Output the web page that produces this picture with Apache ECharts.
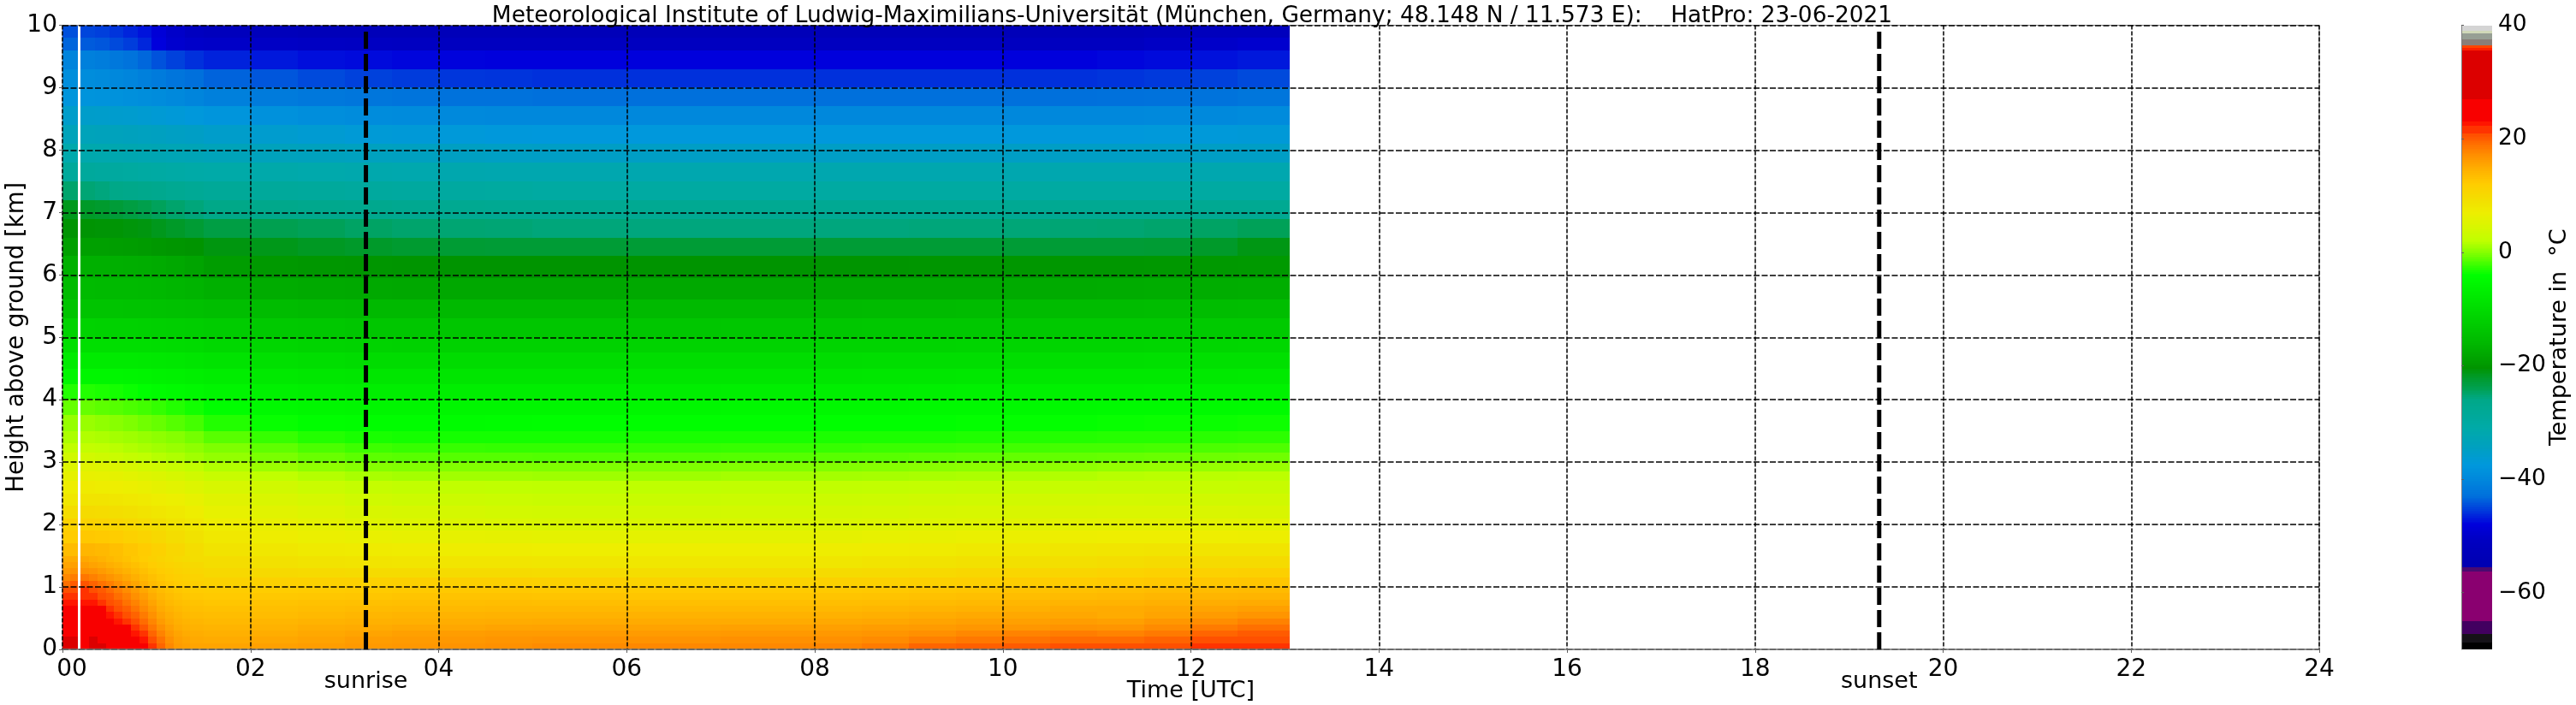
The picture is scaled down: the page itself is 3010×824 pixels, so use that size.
<!DOCTYPE html>
<html><head><meta charset="utf-8">
<style>html,body{margin:0;padding:0;background:#fff}#c{width:3010px;height:824px}</style>
<script src="https://cdn.jsdelivr.net/npm/echarts@6/dist/echarts.min.js"></script>
</head><body><div id="c"></div>
<script>
const titleText = 'Meteorological Institute of Ludwig-Maximilians-Universität (München, Germany; 48.148 N / 11.573 E):    HatPro: 23-06-2021';
const hourTicks = [0,2,4,6,8,10,12,14,16,18,20,22,24];
const tempTicks = [-60,-40,-20,0,20,40];
const sunEvents = ['sunrise','sunset'];
const sunHours = [3.227,19.32];

// Colour bar
const stopTemps = [-70,-68.8,-68.8,-67.2,-67.2,-65,-65,-56.3,-56.3,-55.6,-55.6,-51,-48,-46,-44.5,-43,-40,-37.5,-34.4,-31,-26,-24,-22,-20.4,-19,-16,-12,-8,-4,-3,-1,0,2,4,7,9,12,14.6,17,19,20.5,21,21,22.3,22.3,23,23,27,27,35.6,35.6,36,36,36.5,36.5,37.4,37.4,38.6,38.6,39,39,40];
const stopColors = ['#000000','#000000','#151218','#151218','#420060','#420060','#8a0070','#8a0070','#4a0a70','#4a0a70','#0000b0','#0000c0','#0000dc','#0030dc','#0050dc','#0070dc','#0088dc','#0098dc','#00a0c0','#00aaa8','#00a888','#00a050','#009a28','#009400','#00a000','#00b800','#00d000','#00e800','#00ff00','#22ff00','#66ff00','#88ff00','#bfff00','#d4f800','#eeee00','#f2e000','#ffcc00','#ffb000','#ff9000','#ff7000','#ff5000','#ff5000','#ff3300','#ff3300','#ff1500','#ff1500','#f80000','#f80000','#dc0000','#dc0000','#ff2000','#ff2000','#ff4500','#ff4500','#8a7e78','#8a7e78','#979f94','#979f94','#d0d8b8','#d0d8b8','#d4d4d4','#d4d4d4'];

// Time columns [h]; the white stripe is the hole between the first two columns
const timeStart = [0,.19,.35,.5,.65,.8,.95,1.1,1.3,1.5,2,2.5,3,3.5,4,4.5,5,6,7,8,8.5,9,9.5,10,10.5,11,11.5,12,12.5];
const timeEnd   = [.165,.35,.5,.65,.8,.95,1.1,1.3,1.5,2,2.5,3,3.5,4,4.5,5,6,7,8,8.5,9,9.5,10,10.5,11,11.5,12,12.5,13.05];
// Height row edges [km]
const heightEdges = [0,.1,.2,.3,.4,.5,.6,.7,.8,.9,1,1.15,1.3,1.5,1.7,1.9,2.1,2.3,2.5,2.7,2.85,3,3.15,3.3,3.5,3.75,4,4.25,4.5,4.75,5,5.3,5.6,5.95,6.3,6.6,6.9,7.2,7.5,7.8,8.1,8.4,8.7,9,9.3,9.6,9.8,10];
// Temperature [deg C], one line per height row from the ground up
const temperature = [
[27.5,27.5,27.5,26,25,23.8,21.5,18.5,16.5,15.5,15.8,16,16.3,16.5,16.8,17,17.3,17.5,17.5,17.7,18.3,19.5,19.8,20,20.5,20.8,21,21.3,21.8],
[25.5,26,25.5,25,24.5,23.5,21,18,16,15,15.3,15.6,16,16.2,16.4,16.6,16.8,16.8,17,17,17.3,18,18.5,18.8,19.2,19.2,19.6,20.5,20.8],
[25,25.5,25.2,24.7,24,22.8,20.5,17.6,15.6,14.6,14.8,15.2,15.5,15.8,16,16.2,16.2,16.2,16.3,16.4,16.6,17,17.5,17.8,18.2,17.8,18.4,19.5,20],
[24.5,25,24.8,24.2,23.2,21.8,19.5,17,15.2,14.2,14.4,14.8,15,15.2,15.3,15.5,15.6,15.6,15.7,15.8,16,16.2,16.5,16.5,16.8,16.6,17.3,18.3,19],
[24,24.6,24.2,23.6,22.4,21,18.7,16.5,14.8,13.8,14,14.3,14.5,14.6,14.8,14.9,15,15,15,15.1,15.3,15.5,15.8,15.8,16,15.8,16.5,17.2,17.9],
[23.8,24.2,23.6,23,21.8,20,18,16,14.4,13.4,13.5,13.8,14,14.2,14.3,14.4,14.4,14.4,14.4,14.5,14.7,14.9,15.1,15.2,15.3,15,15.5,16.2,16.6],
[23,23.6,23,22.2,20.8,19.2,17.2,15.4,14,13,13.2,13.4,13.6,13.7,13.8,13.9,13.9,13.8,13.8,13.9,14,14.2,14.4,14.6,14.9,15,15.2,15.5,15.8],
[22.2,22.6,22.3,21.3,20,18.4,16.5,14.9,13.5,12.6,12.8,13,13.1,13.2,13.3,13.4,13.3,13.2,13.2,13.3,13.4,13.6,13.8,14,14.2,14.3,14.6,14.8,15],
[21.5,22,21.3,20.3,19,17.5,15.9,14.4,13,12.2,12.4,12.5,12.6,12.7,12.8,12.8,12.7,12.6,12.6,12.7,12.8,13,13.2,13.4,13.6,13.8,14,14.1,14.2],
[20.5,21,20.3,19.3,18.2,16.8,15.2,13.8,12.6,11.8,11.9,12,12.1,12.2,12.3,12.3,12.2,12.1,12.1,12.2,12.3,12.5,12.6,12.8,13,13.2,13.4,13.5,13.6],
[18.5,19.3,18.8,18,17,15.7,14.3,13,12,11.1,11.2,11.3,11.3,11.4,11.4,11.4,11.2,11,11,11.2,11.3,11.4,11.6,11.8,12,12.2,12.4,12.5,12.6],
[16.5,17.2,17,16.2,15.4,14.4,13.2,12.2,11.2,10.2,10,9.9,9.8,9.8,9.8,9.8,9.6,9.5,9.5,9.7,9.9,10.1,10.3,10.5,10.7,11,11.2,11.3,11.4],
[15,15.5,15.3,14.8,14.2,13.4,12.4,11.4,10.4,9.4,8.9,8.6,8.4,8.3,8.3,8.3,8.1,8,8,8.2,8.4,8.6,8.8,9,9.2,9.5,9.7,9.8,9.8],
[13.5,14,13.8,13.2,12.6,12,11.2,10.4,9.5,8.6,8,7.6,7.4,7.3,7.2,7.2,7,7,7,7.1,7.3,7.5,7.7,7.9,8.1,8.3,8.5,8.5,8.4],
[12,12.4,12.2,11.8,11.3,10.8,10.2,9.5,8.7,7.8,7.1,6.7,6.4,6.2,6.1,6,5.9,5.9,5.9,6,6.2,6.3,6.5,6.7,6.9,7,7,7,6.9],
[11,11,10.8,10.5,10.1,9.6,9.1,8.5,7.9,7,6.3,5.8,5.3,5,4.8,4.7,4.5,4.5,4.6,4.7,4.9,5,5.2,5.4,5.6,5.7,5.7,5.6,5.6],
[9.5,9.8,9.6,9.3,9,8.6,8.2,7.7,7.1,6.2,5.5,5,4.5,4.2,4,3.8,3.7,3.7,3.8,3.9,4,4.2,4.3,4.5,4.6,4.7,4.7,4.6,4.5],
[8,8.5,8.4,8.2,7.9,7.6,7.2,6.8,6.2,5.4,4.6,4.1,3.5,3.2,3.1,3,2.9,2.9,3,3.1,3.2,3.4,3.5,3.6,3.7,3.8,3.7,3.6,3.6],
[7,7.4,7.2,7,6.8,6.4,6,5.6,5,4.3,3.6,3,2.6,2.3,2.2,2.1,2,2,2.2,2.2,2.3,2.4,2.5,2.6,2.7,2.8,2.8,2.7,2.8],
[6,6.3,6.2,6,5.6,5.2,4.8,4.2,3.6,2.9,2.1,1.6,1.2,1,.9,.9,.8,.8,1,1,1.1,1.2,1.3,1.4,1.5,1.7,1.8,1.8,1.9],
[5,5.4,5.2,4.8,4.3,3.8,3.4,2.9,2.2,1.5,.7,.2,-.1,-.2,-.2,-.2,-.3,-.3,-.2,-.2,-.1,0,.1,.1,.2,.4,.5,.5,.6],
[3.6,3.8,3.4,3,2.5,2.1,1.7,1.4,.9,.4,-.4,-.9,-1.3,-1.4,-1.5,-1.5,-1.6,-1.6,-1.5,-1.4,-1.4,-1.3,-1.2,-1.1,-1.1,-1,-.9,-.8,-.7],
[2.2,2.4,2.1,1.8,1.5,1.2,.9,.6,.2,-.3,-1.2,-1.8,-2.2,-2.4,-2.4,-2.5,-2.5,-2.5,-2.4,-2.4,-2.3,-2.3,-2.2,-2.1,-2,-2,-1.9,-1.8,-1.7],
[1.3,1.5,1.3,1,.8,.5,.2,-.1,-.6,-1.4,-2.4,-3,-3.3,-3.4,-3.4,-3.4,-3.4,-3.3,-3.3,-3.2,-3.2,-3.2,-3.1,-3,-3,-2.9,-2.9,-2.8,-2.7],
[.5,.6,.3,0,-.3,-.7,-1,-1.5,-2,-3,-3.8,-4.2,-4.4,-4.4,-4.5,-4.4,-4.2,-4.1,-4.1,-4,-4,-4,-3.9,-3.9,-3.9,-3.8,-3.7,-3.7,-3.6],
[-1,-1,-1.3,-1.5,-1.8,-2.1,-2.5,-3,-3.5,-4.2,-5,-5.4,-5.5,-5.6,-5.6,-5.6,-5.5,-5.4,-5.3,-5.2,-5.2,-5.1,-5,-5,-5,-4.9,-4.8,-4.8,-4.7],
[-3,-3,-3.2,-3.4,-3.7,-4,-4.5,-4.8,-5.2,-5.8,-6.4,-6.7,-6.9,-7,-7,-7,-7,-6.9,-6.8,-6.8,-6.7,-6.6,-6.5,-6.5,-6.4,-6.4,-6.3,-6.3,-6.2],
[-5.5,-5.5,-5.6,-5.6,-5.8,-6,-6.2,-6.4,-6.7,-7.2,-7.8,-8.1,-8.3,-8.4,-8.5,-8.5,-8.5,-8.4,-8.3,-8.3,-8.2,-8.1,-8,-8,-7.9,-7.9,-7.8,-7.8,-7.7],
[-7.5,-7.5,-7.5,-7.6,-7.7,-7.8,-8,-8.2,-8.5,-8.9,-9.3,-9.7,-10,-10,-10,-10,-10,-9.9,-9.9,-9.8,-9.7,-9.7,-9.6,-9.6,-9.5,-9.5,-9.4,-9.4,-9.3],
[-9.5,-9.5,-9.5,-9.6,-9.6,-9.7,-9.9,-10,-10.2,-10.6,-11,-11.3,-11.5,-11.6,-11.6,-11.6,-11.6,-11.5,-11.5,-11.4,-11.3,-11.3,-11.2,-11.2,-11.1,-11.1,-11,-11,-10.9],
[-11.5,-11.5,-11.6,-11.6,-11.7,-11.8,-12,-12.2,-12.4,-12.7,-13.1,-13.4,-13.6,-13.7,-13.7,-13.7,-13.7,-13.6,-13.5,-13.5,-13.4,-13.4,-13.3,-13.3,-13.2,-13.2,-13.1,-13,-13],
[-14,-14,-14,-14,-14.1,-14.2,-14.3,-14.5,-14.7,-15,-15.4,-15.6,-15.8,-15.8,-15.8,-15.8,-15.8,-15.7,-15.7,-15.6,-15.5,-15.5,-15.4,-15.4,-15.3,-15.3,-15.2,-15.1,-15],
[-15.5,-15.5,-15.6,-15.6,-15.7,-15.8,-16,-16.2,-16.5,-17,-17.5,-17.7,-17.9,-18,-18,-18,-18,-17.9,-17.9,-17.8,-17.8,-17.7,-17.7,-17.6,-17.6,-17.5,-17.4,-17.4,-17.3],
[-17,-17,-17,-17.1,-17.2,-17.4,-17.6,-18,-18.5,-19.3,-19.8,-20,-20.2,-20.3,-20.4,-20.4,-20.4,-20.4,-20.4,-20.3,-20.3,-20.2,-20.2,-20.1,-20,-20,-19.9,-19.8,-19.7],
[-19,-19,-19,-19.2,-19.4,-19.6,-19.9,-20.2,-20.4,-21,-21.4,-21.8,-22.1,-22.4,-22.6,-22.7,-22.7,-22.7,-22.7,-22.7,-22.7,-22.7,-22.7,-22.7,-22.7,-22.7,-22.6,-22.1,-21.2],
[-20.5,-20.5,-20.6,-20.6,-20.8,-21,-21.5,-22,-22.6,-23.4,-24,-24.3,-24.7,-25,-25.2,-25.3,-25.5,-25.6,-25.6,-25.6,-25.6,-25.5,-25.5,-25.4,-25.3,-25.2,-25,-24.7,-24.3],
[-21.5,-22,-22.3,-22.8,-23.3,-23.8,-24.4,-25,-25.5,-26,-26.5,-26.8,-27,-27.2,-27.4,-27.5,-27.5,-27.6,-27.6,-27.7,-27.7,-27.7,-27.7,-27.7,-27.6,-27.6,-27.6,-27.5,-27.5],
[-25,-25.3,-25.6,-26,-26.3,-26.7,-27,-27.5,-28,-28.5,-29,-29.2,-29.4,-29.6,-29.7,-29.8,-30,-30,-30,-30,-30,-30,-30,-30,-30,-30,-30,-30,-30],
[-29,-29.2,-29.4,-29.6,-29.8,-30,-30.2,-30.5,-30.8,-31,-31.3,-31.5,-31.7,-31.8,-31.9,-32,-32,-32,-32,-32,-32,-32,-32,-32,-32,-32,-32,-32,-32],
[-31.5,-31.7,-31.8,-32,-32.2,-32.4,-32.6,-32.8,-33,-33.4,-33.8,-34,-34.2,-34.4,-34.6,-34.8,-35,-35,-35,-35,-35,-35,-35,-35,-35,-35,-35,-35,-35],
[-33.5,-33.5,-33.7,-33.8,-34,-34.2,-34.4,-34.7,-35,-35.5,-36,-36.4,-36.8,-37,-37.2,-37.4,-37.5,-37.5,-37.5,-37.5,-37.5,-37.5,-37.5,-37.5,-37.4,-37.4,-37.3,-37.2,-37],
[-35.5,-35.5,-35.6,-35.8,-36,-36.3,-36.6,-37,-37.4,-38,-38.6,-39,-39.4,-39.6,-39.8,-40,-40,-40,-40,-40,-40,-40,-40,-40,-40,-40,-39.9,-39.8,-39.6],
[-38,-38.2,-38.3,-38.5,-38.8,-39,-39.3,-39.8,-40.4,-41,-41.6,-42,-42.3,-42.5,-42.7,-42.8,-43,-43,-43,-43,-43,-43,-43,-43,-43,-42.9,-42.8,-42.6,-42.3],
[-39,-39.2,-39.5,-40,-40.4,-41,-41.6,-42.4,-43,-43.6,-44.2,-44.8,-45.2,-45.5,-45.7,-45.8,-46,-46,-46,-46,-46,-46,-46,-46,-46,-45.8,-45.6,-45.2,-44.8],
[-40.5,-41,-41.4,-42,-42.6,-43.4,-44.4,-45.2,-46,-46.6,-47,-47.4,-47.6,-47.8,-47.9,-48,-48,-48,-48,-48,-48,-48,-48,-48,-48,-47.8,-47.6,-47.3,-47],
[-43.5,-44,-44.2,-44.8,-45.4,-46.4,-48,-49.5,-50,-50.3,-50.5,-50.7,-50.8,-50.9,-51,-51,-51,-51,-51,-51,-51,-51,-51,-51,-51,-51,-50.5,-50,-49.5],
[-44.5,-45,-45.3,-45.8,-46.5,-47.2,-48.5,-50,-51,-52,-52.5,-53,-53,-53,-53,-53,-53,-53,-53,-53,-53,-53,-53,-53,-53,-53,-52.5,-52,-52]
];
// Finer reading of the warm corner (first 1.5 h, lowest 1.5 km), drawn over the table above
const nightStart = [0,.08,.19,.28,.37,.46,.55,.64,.73,.82,.91,1,1.09,1.18,1.27,1.36];
const nightEnd   = [.08,.165,.28,.37,.46,.55,.64,.73,.82,.91,1,1.09,1.18,1.27,1.36,1.5];
const nightEdges = [0,.1,.2,.3,.4,.5,.6,.7,.8,.9,1,1.1,1.2,1.3,1.4,1.5];
const nightTemperature = [
[27.5,27.5,27,27.5,27.5,27,26.5,25,24,23.2,21.5,19.5,17.5,16.2,15.8,15.5],
[27.5,27.5,27,27.5,26,25.5,25,24.5,23.5,22.5,20.8,18.8,17,15.9,15.4,15.1],
[25,25,25,25.5,25.3,25,24.7,24,23,21.5,19.5,17.8,16.3,15.5,15,14.8],
[24.5,24.5,25,25,24.8,24.4,24,23.2,21.8,20.2,18.5,17,15.8,15,14.6,14.4],
[24,24.2,24.6,24.6,24.4,23.7,23,21.9,20.7,19.2,17.6,16.2,15.2,14.6,14.2,14],
[23.8,23.8,24.2,24.2,23.8,23,22,20.8,19.6,18.3,16.9,15.6,14.8,14.2,13.8,13.6],
[23.2,23.2,23.8,23.8,23.2,22,21,19.8,18.7,17.4,16.2,15,14.3,13.8,13.4,13.2],
[22.4,22.5,23,23,22,21,20,18.9,17.8,16.7,15.5,14.5,13.8,13.3,13,12.8],
[21.6,21.8,22.2,22.2,21,20.1,19.1,18.1,17,16,14.9,14,13.4,12.9,12.6,12.4],
[20.6,21,21.5,21,20,19.2,18.2,17.2,16.2,15.2,14.2,13.5,12.9,12.5,12.2,12],
[19,20,20.3,19.6,18.9,18.1,17.2,16.3,15.4,14.5,13.6,13,12.5,12,11.7,11.5],
[17.5,18.2,18.6,18,17.3,16.7,16,15.3,14.6,13.8,13.1,12.5,12,11.6,11.3,11],
[16.3,16.8,17,16.8,16.2,15.6,15,14.4,13.8,13.1,12.5,12,11.5,11.1,10.8,10.5],
[15.5,15.8,16,15.6,15.2,14.7,14.2,13.6,13.1,12.5,11.9,11.4,11,10.6,10.3,10],
[14.8,15,15.2,14.8,14.4,13.9,13.4,12.9,12.4,11.9,11.4,10.9,10.5,10.1,9.8,9.5]
];

const FONT = 'DejaVu Sans';
const FS = 28;
const NAME_FS = 27;
function colorOf(t){
  if(t<=stopTemps[0]) return stopColors[0];
  for(let i=1;i<stopTemps.length;i++){
    if(t<=stopTemps[i]){
      const a=stopTemps[i-1], b=stopTemps[i];
      const f=b>a?(t-a)/(b-a):1;
      return echarts.color.lerp(f,[stopColors[i-1],stopColors[i]]);
    }
  }
  return stopColors[stopColors.length-1];
}
const cellData=[];
temperature.forEach((row,r)=>row.forEach((v,c)=>{
  cellData.push([timeStart[c],timeEnd[c],heightEdges[r],heightEdges[r+1],v]);
}));
nightTemperature.forEach((row,r)=>row.forEach((v,c)=>{
  cellData.push([nightStart[c],nightEnd[c],nightEdges[r],nightEdges[r+1],v]);
}));
const barData=[];
for(let t=-70;t<40;t+=0.25) barData.push([0,1,t,t+0.25,t+0.125]);

function renderCell(params,api){
  const p0=api.coord([api.value(0),api.value(2)]);
  const p1=api.coord([api.value(1),api.value(3)]);
  const x0=Math.round(p0[0]),x1=Math.round(p1[0]),y0=Math.round(p0[1]),y1=Math.round(p1[1]);
  return {type:'rect',shape:{x:x0,y:y1,width:x1-x0,height:y0-y1},style:{fill:colorOf(api.value(4)),stroke:null}};
}
const vGridLine={show:true,lineStyle:{color:'#000',width:1.5,type:[5,2]}};
const hGridLine={show:true,lineStyle:{color:'#000',width:1.5,type:[7,2.5]}};
const txt={fontFamily:FONT,fontSize:FS,color:'#000'};
const nameTxt={fontFamily:FONT,fontSize:NAME_FS,color:'#000'};

const chart=echarts.init(document.getElementById('c'),null,{renderer:'canvas'});
chart.setOption({
  animation:false,
  backgroundColor:'#fff',
  title:{text:titleText,left:1388,top:1,textAlign:'center',textStyle:{fontFamily:FONT,fontSize:26.4,fontWeight:'normal',color:'#000'}},
  grid:[
    {left:73,top:29.5,width:2637,height:729.5,show:true,borderColor:'#808080',borderWidth:1,containLabel:false,outerBoundsMode:'none'},
    {left:2876,top:29.5,width:36,height:729.5,show:false,outerBoundsMode:'none'}
  ],
  xAxis:[
    {type:'value',gridIndex:0,min:0,max:24,interval:2,z:5,
     name:'Time [UTC]',nameLocation:'middle',nameGap:35,nameMoveOverlap:false,nameTextStyle:nameTxt,
     axisLine:{show:true,lineStyle:{color:'#808080',width:1.5}},
     axisTick:{show:true,length:4,lineStyle:{color:'#606060'}},
     axisLabel:Object.assign({},txt,{margin:10,
       formatter:v=>v===0?'{z|00}':String(v).padStart(2,'0'),
       rich:{z:Object.assign({},txt,{padding:[0,0,0,22]})}}),
     splitLine:vGridLine},
    {type:'value',gridIndex:1,min:0,max:1,show:false,splitLine:{show:false}}
  ],
  yAxis:[
    {type:'value',gridIndex:0,min:0,max:10,interval:1,z:5,
     name:'Height above ground [km]',nameLocation:'middle',nameGap:39,nameMoveOverlap:false,nameTextStyle:{fontFamily:FONT,fontSize:27.5,color:'#000'},
     axisLine:{show:false},
     axisTick:{show:true,length:4,lineStyle:{color:'#606060'}},
     axisLabel:Object.assign({},txt,{margin:6}),
     splitLine:hGridLine},
    {type:'value',gridIndex:1,min:-70,max:40,position:'right',z:5,
     name:'Temperature in  °C',nameLocation:'middle',nameRotate:90,nameGap:65,nameMoveOverlap:false,nameTextStyle:nameTxt,
     axisLine:{show:true,lineStyle:{color:'#808080',width:1}},
     axisTick:{show:true,length:3,customValues:tempTicks,lineStyle:{color:'#606060'}},
     axisLabel:Object.assign({},txt,{fontSize:26.5,margin:7,customValues:tempTicks,
       formatter:v=>String(v).replace('-','\u2212')}),
     splitLine:{show:false}}
  ],
  series:[
    {type:'custom',name:'Temperature',xAxisIndex:0,yAxisIndex:0,z:2,clip:true,renderItem:renderCell,
     encode:{x:[0,1],y:[2,3]},data:cellData,progressive:0,silent:true},
    {type:'custom',name:'Colour bar',xAxisIndex:1,yAxisIndex:1,z:2,renderItem:renderCell,
     encode:{x:[0,1],y:[2,3]},data:barData,progressive:0,silent:true},
    ...sunEvents.map((name,i)=>({
      type:'line',name,xAxisIndex:0,yAxisIndex:0,z:6,showSymbol:false,silent:true,
      lineStyle:{color:'#000',width:5,type:[20,6]},
      data:[[sunHours[i],0],[sunHours[i],10]]
    })),
    {type:'scatter',name:'sun labels',xAxisIndex:0,yAxisIndex:0,z:7,symbolSize:1,silent:true,
     itemStyle:{color:'rgba(0,0,0,0)',opacity:1},
     label:{show:true,position:'bottom',distance:24,formatter:p=>p.name,fontFamily:FONT,fontSize:NAME_FS,color:'#000',opacity:1},
     data:sunEvents.map((name,i)=>({name,value:[sunHours[i],0]}))}
  ]
});
</script></body></html>
